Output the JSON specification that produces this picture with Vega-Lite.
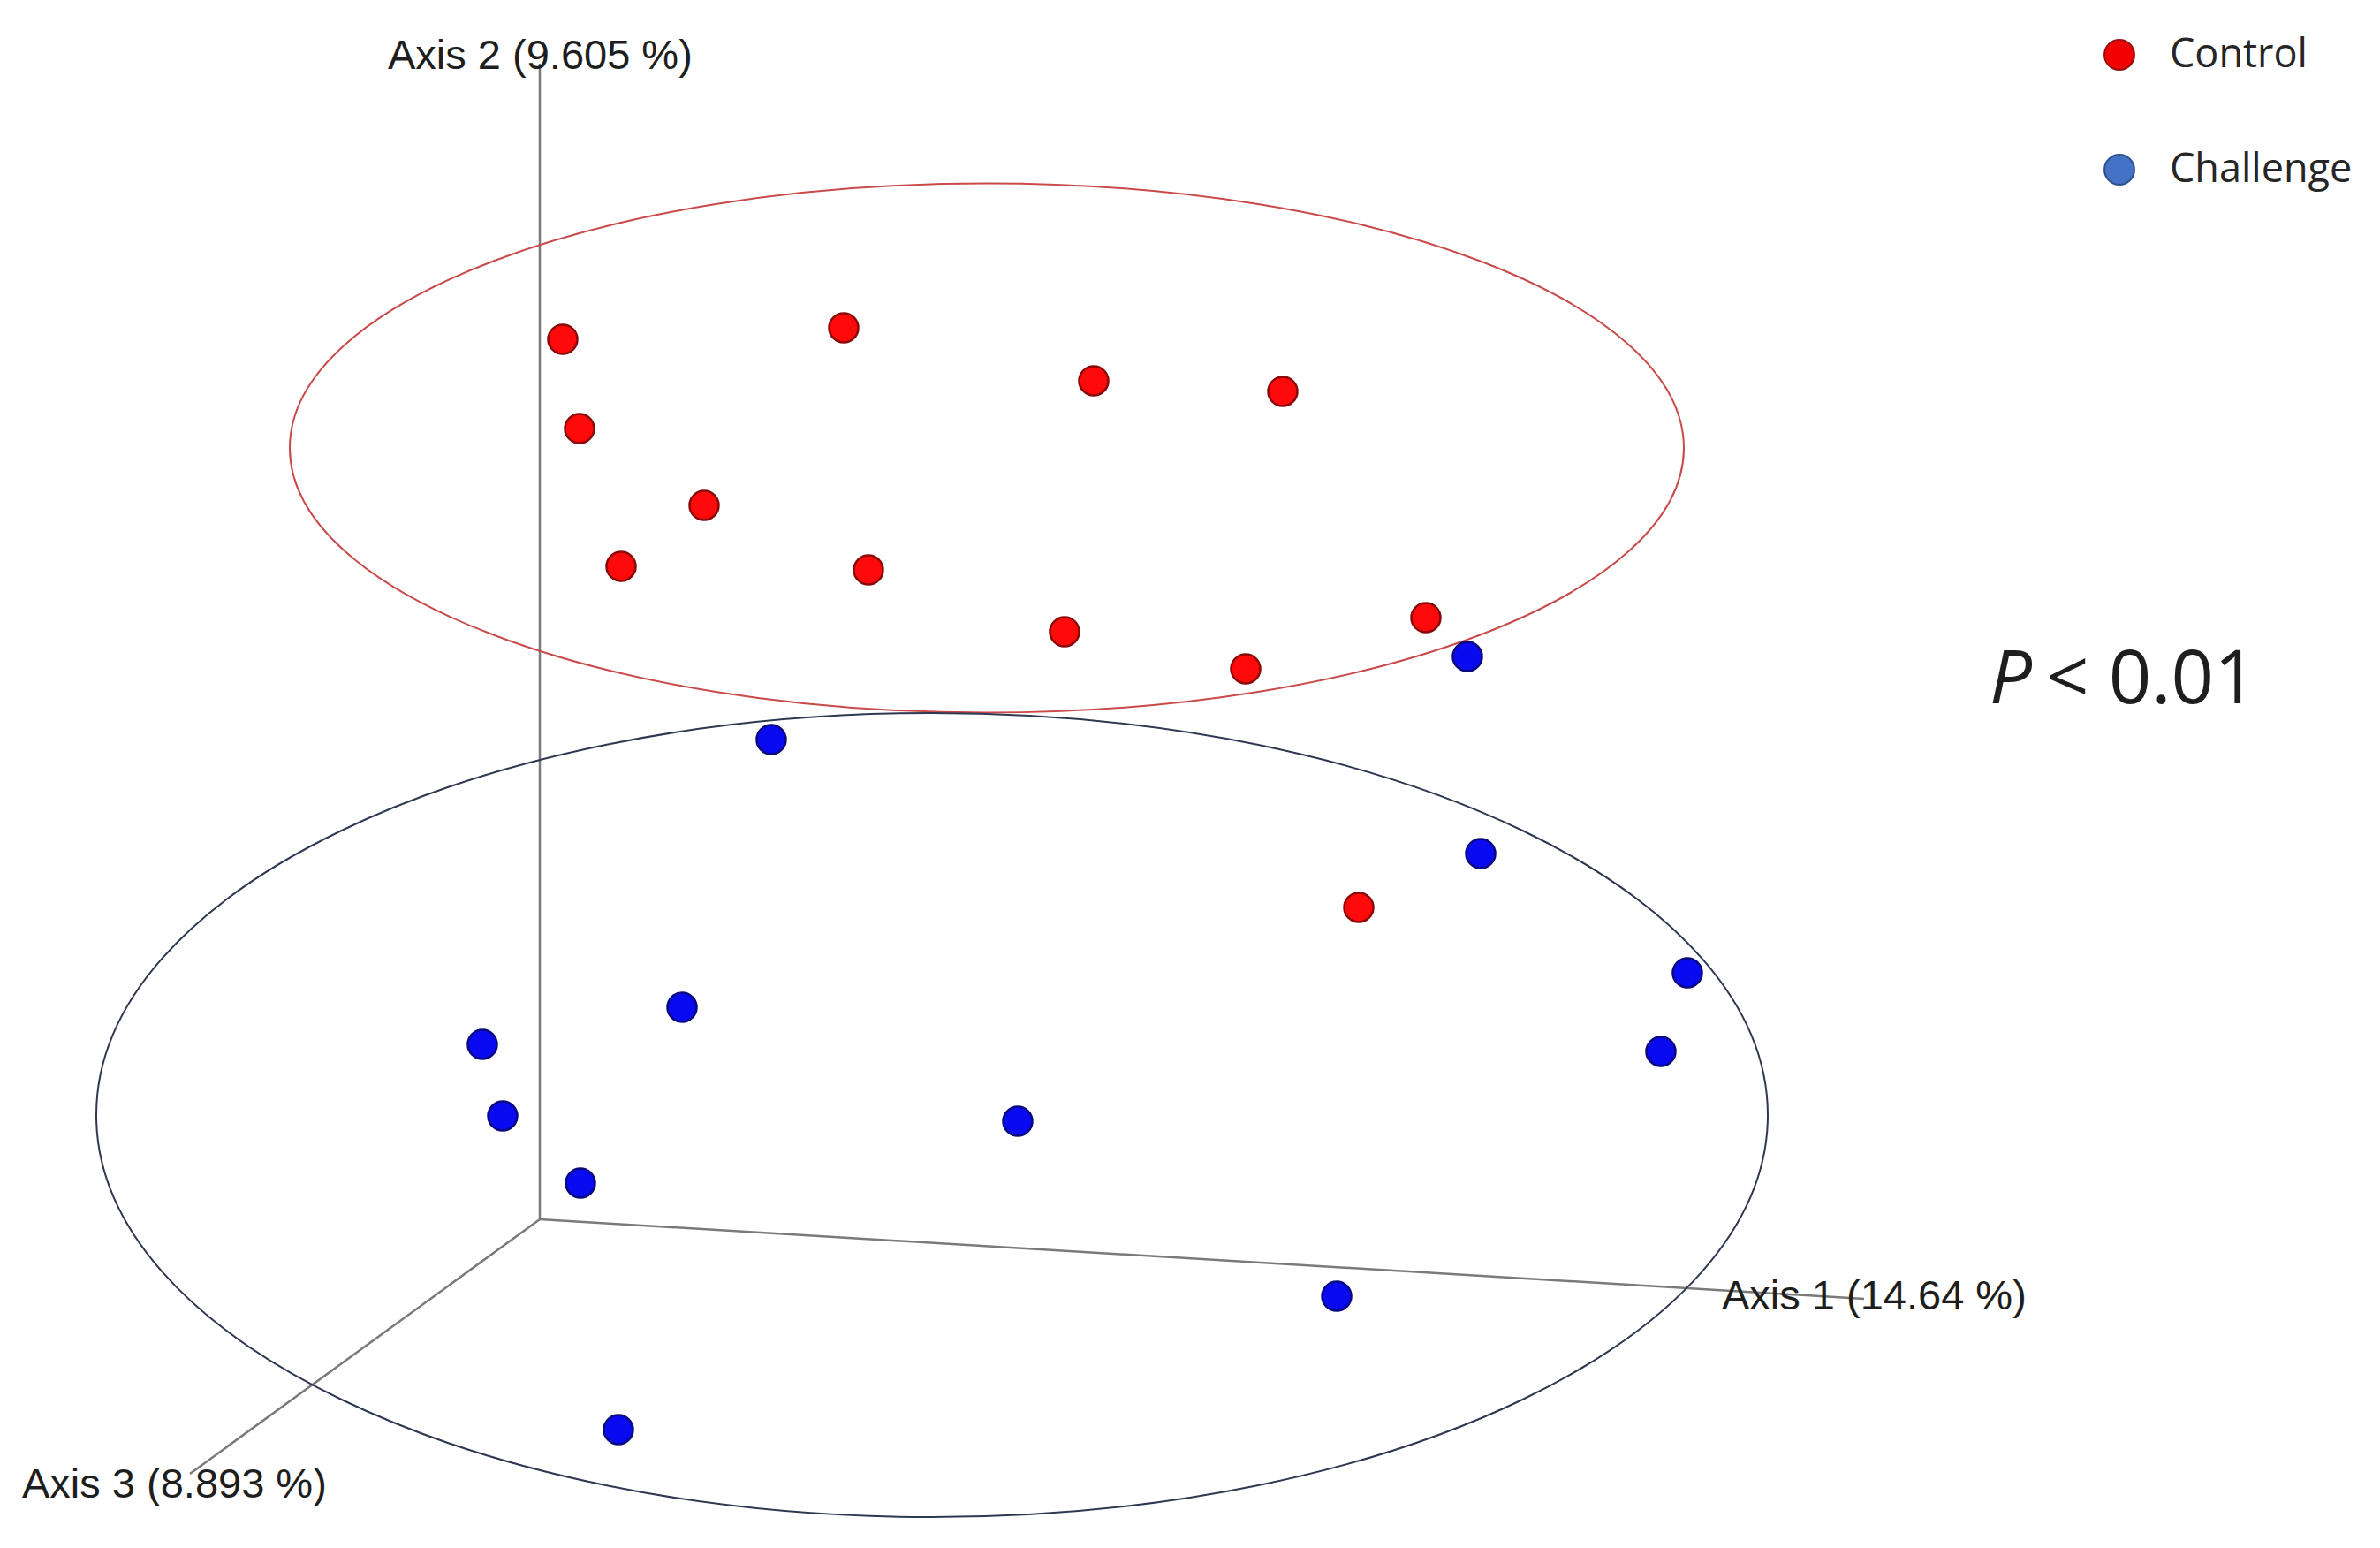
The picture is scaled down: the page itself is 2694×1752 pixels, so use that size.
{
  "$schema": "https://vega.github.io/schema/vega-lite/v6.json",
  "width": 2694,
  "height": 1752,
  "autosize": {"type": "fit", "contains": "padding"},
  "padding": 0,
  "background": "white",
  "config": {"view": {"stroke": null}},
  "datasets": {
    "ellipses": [
      {"group": "Control", "cx": 1117, "cy": 507},
      {"group": "Challenge", "cx": 1055, "cy": 1262}
    ],
    "axes": [
      {"axis": "Axis 2", "x": 611, "y": 1380, "x2": 611, "y2": 72},
      {"axis": "Axis 1", "x": 611, "y": 1380, "x2": 2110, "y2": 1470},
      {"axis": "Axis 3", "x": 611, "y": 1380, "x2": 215, "y2": 1668}
    ],
    "axisLabels": [
      {"label": "Axis 2 (9.605 %)", "x": 439, "y": 78},
      {"label": "Axis 1 (14.64 %)", "x": 1949, "y": 1482},
      {"label": "Axis 3 (8.893 %)", "x": 25, "y": 1695}
    ],
    "samples": [
      {"group": "Control", "x": 637, "y": 384},
      {"group": "Control", "x": 955, "y": 371},
      {"group": "Control", "x": 1238, "y": 431},
      {"group": "Control", "x": 1452, "y": 443},
      {"group": "Control", "x": 656, "y": 485},
      {"group": "Control", "x": 797, "y": 572},
      {"group": "Control", "x": 703, "y": 641},
      {"group": "Control", "x": 983, "y": 645},
      {"group": "Control", "x": 1205, "y": 715},
      {"group": "Control", "x": 1614, "y": 699},
      {"group": "Control", "x": 1410, "y": 757},
      {"group": "Control", "x": 1538, "y": 1027},
      {"group": "Challenge", "x": 1661, "y": 743},
      {"group": "Challenge", "x": 873, "y": 837},
      {"group": "Challenge", "x": 1676, "y": 966},
      {"group": "Challenge", "x": 1910, "y": 1101},
      {"group": "Challenge", "x": 1880, "y": 1190},
      {"group": "Challenge", "x": 772, "y": 1140},
      {"group": "Challenge", "x": 546, "y": 1182},
      {"group": "Challenge", "x": 569, "y": 1263},
      {"group": "Challenge", "x": 657, "y": 1339},
      {"group": "Challenge", "x": 1152, "y": 1269},
      {"group": "Challenge", "x": 1513, "y": 1467},
      {"group": "Challenge", "x": 700, "y": 1618}
    ],
    "legend": [
      {"group": "Control", "x": 2399, "y": 62, "tx": 2456},
      {"group": "Challenge", "x": 2399, "y": 192, "tx": 2456}
    ],
    "pvalue": [
      {"part": "P", "x": 2252, "y": 796},
      {"part": "< 0.01", "x": 2316, "y": 796}
    ]
  },
  "layer": [
    {
      "data": {"name": "axes"},
      "mark": {"type": "rule", "stroke": "#7a7a7a", "strokeWidth": 2.5},
      "encoding": {
        "x": {"field": "x", "type": "quantitative", "scale": {"domain": [0, 2694], "nice": false, "zero": false}, "axis": null},
        "y": {"field": "y", "type": "quantitative", "scale": {"domain": [0, 1752], "nice": false, "zero": false, "reverse": true}, "axis": null},
        "x2": {"field": "x2"},
        "y2": {"field": "y2"}
      }
    },
    {
      "data": {"name": "ellipses"},
      "transform": [{"filter": "datum.group === 'Control'"}],
      "mark": {"type": "point", "shape": "M -1 0 A 1 0.3796 0 1 1 1 0 A 1 0.3796 0 1 1 -1 0 Z", "size": 2490084, "filled": false, "stroke": "#c94a4a", "strokeWidth": 2, "opacity": 1},
      "encoding": {
        "x": {"field": "cx", "type": "quantitative"},
        "y": {"field": "cy", "type": "quantitative"}
      }
    },
    {
      "data": {"name": "ellipses"},
      "transform": [{"filter": "datum.group === 'Challenge'"}],
      "mark": {"type": "point", "shape": "M -1 0 A 1 0.481 0 1 1 1 0 A 1 0.481 0 1 1 -1 0 Z", "size": 3579664, "filled": false, "stroke": "#2e3850", "strokeWidth": 2, "opacity": 1},
      "encoding": {
        "x": {"field": "cx", "type": "quantitative"},
        "y": {"field": "cy", "type": "quantitative"}
      }
    },
    {
      "data": {"name": "axisLabels"},
      "mark": {"type": "text", "align": "left", "baseline": "alphabetic", "font": "Liberation Sans", "fontSize": 47, "fill": "#1e1e1e"},
      "encoding": {
        "x": {"field": "x", "type": "quantitative"},
        "y": {"field": "y", "type": "quantitative"},
        "text": {"field": "label"}
      }
    },
    {
      "data": {"name": "samples"},
      "mark": {"type": "point", "shape": "circle", "filled": true, "size": 1090, "strokeWidth": 2.5, "opacity": 1},
      "encoding": {
        "x": {"field": "x", "type": "quantitative"},
        "y": {"field": "y", "type": "quantitative"},
        "fill": {"field": "group", "type": "nominal", "scale": {"domain": ["Control", "Challenge"], "range": ["#ff0a0a", "#0a0af0"]}, "legend": null},
        "stroke": {"field": "group", "type": "nominal", "scale": {"domain": ["Control", "Challenge"], "range": ["#8a0a0a", "#0a0a80"]}, "legend": null}
      }
    },
    {
      "data": {"name": "legend"},
      "mark": {"type": "point", "shape": "circle", "filled": true, "size": 1150, "strokeWidth": 2, "opacity": 1},
      "encoding": {
        "x": {"field": "x", "type": "quantitative"},
        "y": {"field": "y", "type": "quantitative"},
        "fill": {"field": "group", "type": "nominal", "scale": {"domain": ["Control", "Challenge"], "range": ["#f00000", "#4472c4"]}, "legend": null},
        "stroke": {"field": "group", "type": "nominal", "scale": {"domain": ["Control", "Challenge"], "range": ["#9a1010", "#2f528f"]}, "legend": null}
      }
    },
    {
      "data": {"name": "legend"},
      "mark": {"type": "text", "align": "left", "baseline": "middle", "font": "Open Sans", "fontSize": 45, "fill": "#262626"},
      "encoding": {
        "x": {"field": "tx", "type": "quantitative"},
        "y": {"field": "y", "type": "quantitative"},
        "text": {"field": "group"}
      }
    },
    {
      "data": {"name": "pvalue"},
      "transform": [{"filter": "datum.part === 'P'"}],
      "mark": {"type": "text", "align": "left", "baseline": "alphabetic", "font": "Open Sans", "fontSize": 85, "fontStyle": "italic", "fill": "#1e1e1e"},
      "encoding": {
        "x": {"field": "x", "type": "quantitative"},
        "y": {"field": "y", "type": "quantitative"},
        "text": {"field": "part"}
      }
    },
    {
      "data": {"name": "pvalue"},
      "transform": [{"filter": "datum.part !== 'P'"}],
      "mark": {"type": "text", "align": "left", "baseline": "alphabetic", "font": "Open Sans", "fontSize": 85, "fill": "#1e1e1e"},
      "encoding": {
        "x": {"field": "x", "type": "quantitative"},
        "y": {"field": "y", "type": "quantitative"},
        "text": {"field": "part"}
      }
    }
  ],
  "resolve": {"scale": {"fill": "independent", "stroke": "independent"}}
}
